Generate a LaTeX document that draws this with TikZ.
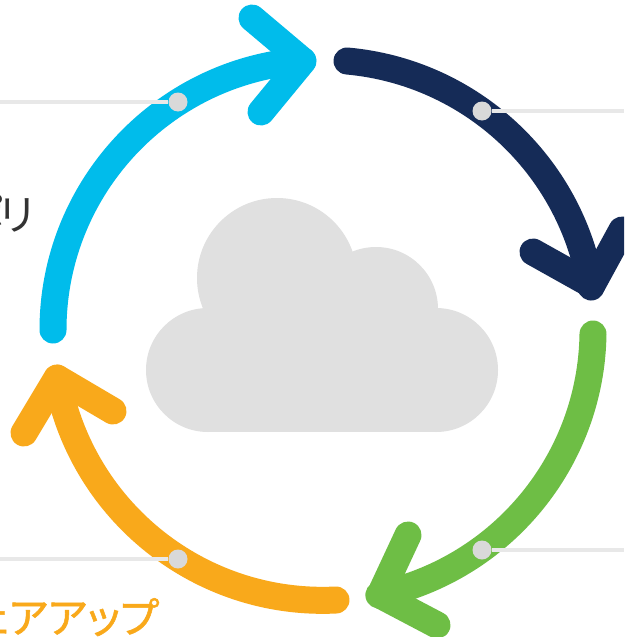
\documentclass[tikz,border=0pt]{standalone}
\usepackage{fontspec}
\newfontfamily\jpfont[RawFeature=+palt]{Noto Sans CJK JP}
\newfontfamily\jpheavy[RawFeature=+palt,FakeBold=1.2]{Noto Sans CJK JP}
\definecolor{cycleblue}{HTML}{00BCEB}
\definecolor{cyclenavy}{HTML}{152B57}
\definecolor{cyclegreen}{HTML}{6EBE45}
\definecolor{cycleorange}{HTML}{F9A91B}
\definecolor{cloudgray}{HTML}{E0E0E0}
\tikzset{
  cycle arrow/.style={line width=27pt,line cap=round,line join=round},
  leader/.style={draw=black!9,line width=4pt},
  leader dot/.style={circle,fill=black!15,inner sep=0pt,minimum size=19pt},
  cropped label/.style={inner sep=0pt,anchor=base east,font=\jpfont\fontsize{42}{48}\selectfont}
}

\begin{document}
\begin{tikzpicture}[x=1pt,y=-1pt]
\clip (0,0) rectangle (624,637);
\fill[white] (0,0) rectangle (624,637);
\draw[cycle arrow,cyclenavy] (347,61) arc[start angle=-84.9,end angle=-9.5,radius=272];
\draw[cycle arrow,cyclenavy] (533,252) -- (592,285) -- (622,230);
\draw[cycle arrow,cyclegreen] (593,334) arc[start angle=0.85,end angle=77.9,radius=271];
\draw[cycle arrow,cyclegreen] (408,535) -- (380,595) -- (437,625);
\draw[cycle arrow,cycleorange] (336,600) arc[start angle=87.2,end angle=169.8,radius=270];
\draw[cycle arrow,cycleorange] (24,433) -- (57,378) -- (113,411);
\draw[cycle arrow,cycleblue] (53,330) arc[start angle=180,end angle=265.7,radius=270];
\draw[cycle arrow,cycleblue] (252,18) -- (303,61) -- (261,112);
\fill[cloudgray] (208,308) rectangle (436,432);
\fill[cloudgray] (208,370) circle[radius=62];
\fill[cloudgray] (436,370) circle[radius=62];
\fill[cloudgray] (277,278) circle[radius=80];
\fill[cloudgray] (376,309) circle[radius=62];
\node[leader dot] (navydot) at (482,111) {};
\node[leader dot] (greendot) at (482,550) {};
\node[leader dot] (orangedot) at (178,559) {};
\node[leader dot] (bluedot) at (178,102) {};
\coordinate (navyend) at (624,111);
\coordinate (greenend) at (624,550);
\coordinate (orangeend) at (0,559);
\coordinate (blueend) at (0,102);
\draw[leader] (navydot) -- (navyend);
\draw[leader] (greendot) -- (greenend);
\draw[leader] (orangedot) -- (orangeend);
\draw[leader] (bluedot) -- (blueend);
\node[cropped label,text=black!80] (policylabel) at (34,230) {ポ\kern-5ptリ};
\node[cropped label,text=cycleorange] (softlabel) at (159,633) {\jpheavy ェアアップ};
\end{tikzpicture}
\end{document}
